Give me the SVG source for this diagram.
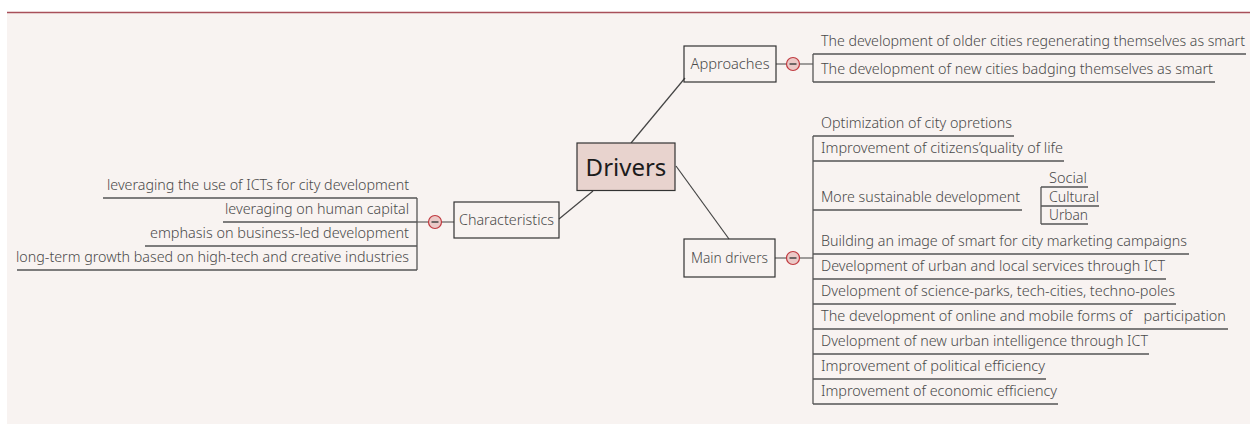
<svg xmlns="http://www.w3.org/2000/svg" width="1250" height="424" viewBox="0 0 1250 424">
<style>
.t{font-family:"Noto Sans","Open Sans","Liberation Sans",sans-serif;font-size:14px;fill:#4a4a4a;font-weight:300}
.box{fill:none;stroke:#333;stroke-width:1.2}
.ln{stroke:#444;stroke-width:1.2;fill:none}
.ul{stroke:#555;stroke-width:1.3;fill:none}
.col{fill:#ebc9c7;stroke:#c0393f;stroke-width:1.2}
.mn{stroke:#444;stroke-width:1.5}
</style>
<rect x="0" y="0" width="1250" height="424" fill="#ffffff"/>
<rect x="7" y="12" width="1243" height="412" fill="#f8f3f1"/>
<line x1="7" y1="12.5" x2="1250" y2="12.5" stroke="#a84f5a" stroke-width="1.5"/>

<g id="connectors">
<line class="ln" x1="631" y1="143" x2="685" y2="78"/>
<line class="ln" x1="593" y1="191" x2="559" y2="219"/>
<line class="ln" x1="676" y1="166" x2="729" y2="239"/>
<!-- approaches -->
<line class="ln" x1="776" y1="64" x2="813" y2="64"/>
<!-- main drivers -->
<line class="ln" x1="775" y1="258" x2="813" y2="258"/>
<!-- characteristics -->
<line class="ln" x1="417" y1="222" x2="454" y2="222"/>
</g>

<g id="drivers">
<rect x="577" y="143" width="98" height="47.5" fill="#e8d3ce" stroke="#333" stroke-width="1.2"/>
<text x="626" y="176" text-anchor="middle" font-family="Noto Sans,Open Sans,sans-serif" font-size="24" fill="#1c1c1c">Drivers</text>
</g>

<g id="approaches">
<rect class="box" x="684" y="46" width="92" height="36"/>
<text class="t" x="730" y="69" text-anchor="middle" textLength="79" lengthAdjust="spacingAndGlyphs">Approaches</text>
<circle class="col" cx="793" cy="64" r="6.5"/>
<line class="mn" x1="789.5" y1="64" x2="796.5" y2="64"/>
<line class="ul" x1="813" y1="54" x2="813" y2="82"/>
<line class="ul" x1="813" y1="54" x2="1246" y2="54"/>
<line class="ul" x1="813" y1="82" x2="1215" y2="82"/>
<text class="t" x="821" y="45.5" textLength="424" lengthAdjust="spacingAndGlyphs">The development of older cities regenerating themselves as smart</text>
<text class="t" x="821" y="73.5" textLength="392" lengthAdjust="spacingAndGlyphs">The development of new cities badging themselves as smart</text>
</g>

<g id="characteristics">
<rect class="box" x="454" y="202" width="105" height="36"/>
<text class="t" x="506.5" y="225" text-anchor="middle" textLength="95" lengthAdjust="spacingAndGlyphs">Characteristics</text>
<circle class="col" cx="435" cy="222" r="6.5"/>
<line class="mn" x1="431.5" y1="222" x2="438.5" y2="222"/>
<line class="ul" x1="417" y1="198" x2="417" y2="270"/>
<line class="ul" x1="103" y1="198" x2="417" y2="198"/>
<line class="ul" x1="223" y1="222" x2="417" y2="222"/>
<line class="ul" x1="145" y1="246" x2="417" y2="246"/>
<line class="ul" x1="17" y1="270" x2="417" y2="270"/>
<text class="t" x="107" y="190" textLength="302" lengthAdjust="spacingAndGlyphs">leveraging the use of ICTs for city development</text>
<text class="t" x="225" y="214" textLength="184" lengthAdjust="spacingAndGlyphs">leveraging on human capital</text>
<text class="t" x="150" y="238" textLength="259" lengthAdjust="spacingAndGlyphs">emphasis on business-led development</text>
<text class="t" x="16" y="262" textLength="393" lengthAdjust="spacingAndGlyphs">long-term growth based on high-tech and creative industries</text>
</g>

<g id="main-drivers">
<rect class="box" x="684" y="239" width="91" height="38"/>
<text class="t" x="729.5" y="263" text-anchor="middle" textLength="77" lengthAdjust="spacingAndGlyphs">Main drivers</text>
<circle class="col" cx="793" cy="258" r="6.5"/>
<line class="mn" x1="789.5" y1="258" x2="796.5" y2="258"/>
<line class="ul" x1="813" y1="136" x2="813" y2="404"/>
<line class="ul" x1="813" y1="136" x2="1014" y2="136"/>
<line class="ul" x1="813" y1="161" x2="1064" y2="161"/>
<line class="ul" x1="813" y1="210" x2="1022" y2="210"/>
<line class="ul" x1="813" y1="254" x2="1189" y2="254"/>
<line class="ul" x1="813" y1="279" x2="1166" y2="279"/>
<line class="ul" x1="813" y1="304" x2="1176" y2="304"/>
<line class="ul" x1="813" y1="329" x2="1228" y2="329"/>
<line class="ul" x1="813" y1="354" x2="1149" y2="354"/>
<line class="ul" x1="813" y1="379" x2="1046" y2="379"/>
<line class="ul" x1="813" y1="404" x2="1058" y2="404"/>
<text class="t" x="821" y="128" textLength="191" lengthAdjust="spacingAndGlyphs">Optimization of city opretions</text>
<text class="t" x="821" y="153" textLength="242" lengthAdjust="spacingAndGlyphs">Improvement of citizens’quality of life</text>
<text class="t" x="821" y="202" textLength="199" lengthAdjust="spacingAndGlyphs">More sustainable development</text>
<text class="t" x="821" y="246" textLength="366" lengthAdjust="spacingAndGlyphs">Building an image of smart for city marketing campaigns</text>
<text class="t" x="821" y="271" textLength="344" lengthAdjust="spacingAndGlyphs">Development of urban and local services through ICT</text>
<text class="t" x="821" y="296" textLength="354" lengthAdjust="spacingAndGlyphs">Dvelopment of science-parks, tech-cities, techno-poles</text>
<text class="t" x="821" y="321" textLength="405" lengthAdjust="spacingAndGlyphs">The development of online and mobile forms of&#160;&#160; participation</text>
<text class="t" x="821" y="346" textLength="327" lengthAdjust="spacingAndGlyphs">Dvelopment of new urban intelligence through ICT</text>
<text class="t" x="821" y="371" textLength="224" lengthAdjust="spacingAndGlyphs">Improvement of political efficiency</text>
<text class="t" x="821" y="396" textLength="236" lengthAdjust="spacingAndGlyphs">Improvement of economic efficiency</text>
</g>

<g id="sustainable-sub">
<line class="ul" x1="1041" y1="187" x2="1041" y2="224"/>
<line class="ul" x1="1041" y1="187" x2="1088" y2="187"/>
<line class="ul" x1="1041" y1="206" x2="1099" y2="206"/>
<line class="ul" x1="1041" y1="224" x2="1088" y2="224"/>
<text class="t" x="1049" y="182.5" textLength="38" lengthAdjust="spacingAndGlyphs">Social</text>
<text class="t" x="1049" y="201.5" textLength="50" lengthAdjust="spacingAndGlyphs">Cultural</text>
<text class="t" x="1049" y="220" textLength="39" lengthAdjust="spacingAndGlyphs">Urban</text>
</g>
</svg>
